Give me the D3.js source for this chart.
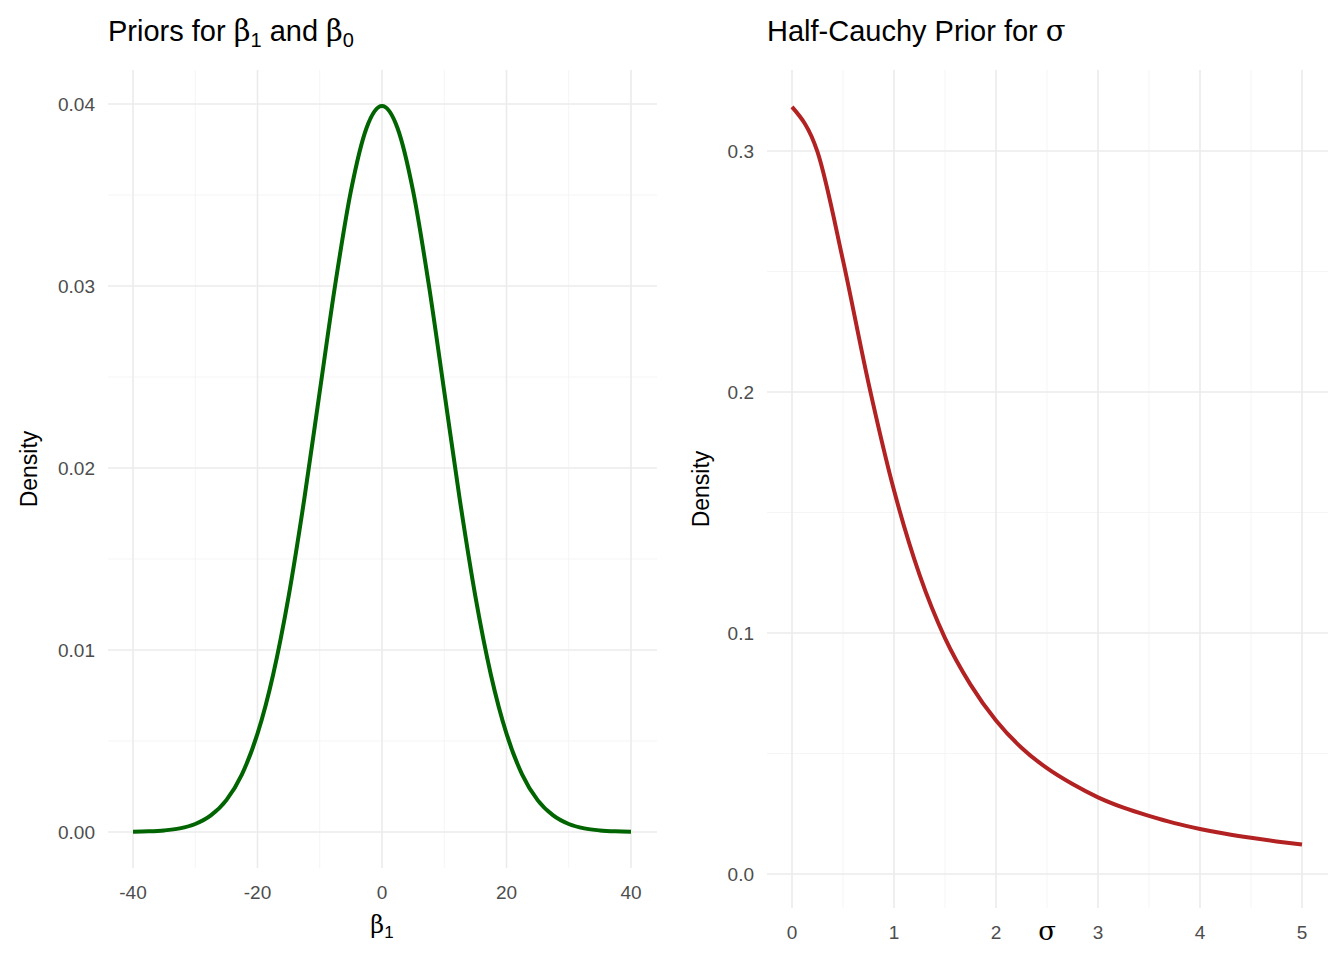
<!DOCTYPE html>
<html><head><meta charset="utf-8">
<script src="https://cdn.jsdelivr.net/npm/d3@7"></script>
<style>body{margin:0;background:#fff;font-family:"Liberation Sans",Arial,sans-serif}</style>
</head><body><svg id="c" width="1344" height="960"></svg>
<script>
// values
const betaX = [-40,-37.5,-35,-32.5,-30,-27.5,-25,-22.5,-20,-17.5,-15,-12.5,-10,-7.5,-5,-2.5,0,2.5,5,7.5,10,12.5,15,17.5,20,22.5,25,27.5,30,32.5,35,37.5,40];
const betaHalf = [0.03989,0.03867,0.03521,0.03011,0.02420,0.01826,0.01295,0.00863,0.00540,0.00317,0.00175,0.00091,0.00044,0.00020,0.000087,0.000035,0.000013];
const betaY = betaHalf.slice(1).reverse().concat(betaHalf);
const sigmaX = [0,0.25,0.5,0.75,1,1.25,1.5,1.75,2,2.25,2.5,2.75,3,3.25,3.5,3.75,4,4.25,4.5,4.75,5];
const sigmaY = [0.3183,0.2996,0.2546,0.2037,0.1592,0.1242,0.0979,0.0786,0.0637,0.0524,0.0439,0.0373,0.0318,0.0275,0.0241,0.0211,0.0187,0.0167,0.0150,0.0135,0.0122];
const leftXTicks = [-40,-20,0,20,40], leftXMinor = [-30,-10,10,30];
const leftYTicks = [0,0.01,0.02,0.03,0.04], leftYMinor = [0.005,0.015,0.025,0.035];
const rightXTicks = [0,1,2,3,4,5], rightXMinor = [0.5,1.5,2.5,3.5,4.5];
const rightYTicks = [0,0.1,0.2,0.3], rightYMinor = [0.05,0.15,0.25];

const svg = d3.select("#c");

function panel(o) {
  const g = svg.append("g");
  const x = d3.scaleLinear().domain(o.xd).range(o.xr);
  const y = d3.scaleLinear().domain(o.yd).range(o.yr);
  const [px0, px1] = o.px, [py0, py1] = o.py;
  o.xMinor.forEach(v => g.append("line").attr("x1", x(v)).attr("x2", x(v)).attr("y1", py0).attr("y2", py1).attr("stroke", "#f2f2f2").attr("stroke-width", 0.8));
  o.yMinor.forEach(v => g.append("line").attr("y1", y(v)).attr("y2", y(v)).attr("x1", px0).attr("x2", px1).attr("stroke", "#f2f2f2").attr("stroke-width", 0.8));
  o.xTicks.forEach(v => g.append("line").attr("x1", x(v)).attr("x2", x(v)).attr("y1", py0).attr("y2", py1).attr("stroke", "#ebebeb").attr("stroke-width", 1.6));
  o.yTicks.forEach(v => g.append("line").attr("y1", y(v)).attr("y2", y(v)).attr("x1", px0).attr("x2", px1).attr("stroke", "#ebebeb").attr("stroke-width", 1.6));
  o.xTicks.forEach(v => g.append("text").attr("x", x(v)).attr("y", py1 + 31).attr("text-anchor", "middle").attr("font-size", 19).attr("fill", "#4d4d4d").text(v));
  o.yTicks.forEach(v => g.append("text").attr("x", px0 - 13).attr("y", y(v) + 7).attr("text-anchor", "end").attr("font-size", 19).attr("fill", "#4d4d4d").text(o.yFmt(v)));
  const pts = o.xs.map((v, i) => [v, o.ys[i]]);
  g.append("path").datum(pts).attr("fill", "none").attr("stroke", o.color).attr("stroke-width", 4)
    .attr("d", d3.line().x(d => x(d[0])).y(d => y(d[1])).curve(d3.curveMonotoneX));
  // y title
  g.append("text").attr("transform", `translate(${o.yTitleX},${(py0 + py1) / 2}) rotate(-90)`).attr("text-anchor", "middle").attr("font-size", 23).text("Density");
  return { x, y, g };
}

const L = panel({ xd: [-40, 40], xr: [133, 631], yd: [0, 0.04], yr: [832, 104], px: [108, 657], py: [70, 868],
  xTicks: leftXTicks, xMinor: leftXMinor, yTicks: leftYTicks, yMinor: leftYMinor, xs: betaX, ys: betaY,
  color: "#006400", yFmt: d3.format(".2f"), yTitleX: 37 });
const R = panel({ xd: [0, 5], xr: [792, 1302], yd: [0, 0.3], yr: [874, 151], px: [767, 1328], py: [70, 908],
  xTicks: rightXTicks, xMinor: rightXMinor, yTicks: rightYTicks, yMinor: rightYMinor, xs: sigmaX, ys: sigmaY,
  color: "#B22222", yFmt: d3.format(".1f"), yTitleX: 709 });

const serif = "'DejaVu Serif','Liberation Serif',serif";
// x titles
const lx = svg.append("text").attr("x", 382).attr("y", 933).attr("text-anchor", "middle").attr("font-size", 24);
lx.append("tspan").attr("font-family", serif).text("β");
lx.append("tspan").attr("font-size", 17).attr("dy", 5).text("1");
svg.append("text").attr("x", 1047).attr("y", 940).attr("text-anchor", "middle").attr("font-size", 26).attr("font-family", serif).text("σ");

// titles
const t1 = svg.append("text").attr("x", 108).attr("y", 41).attr("font-size", 29);
t1.append("tspan").text("Priors for  ");
t1.append("tspan").attr("font-family", serif).text("β");
t1.append("tspan").attr("font-size", 20).attr("dy", 6).text("1");
t1.append("tspan").attr("dy", -6).text(" and ");
t1.append("tspan").attr("font-family", serif).text("β");
t1.append("tspan").attr("font-size", 20).attr("dy", 6).text("0");
const t2 = svg.append("text").attr("x", 767).attr("y", 41).attr("font-size", 29);
t2.append("tspan").text("Half-Cauchy Prior for  ");
t2.append("tspan").attr("font-family", serif).text("σ");
</script></body></html>
